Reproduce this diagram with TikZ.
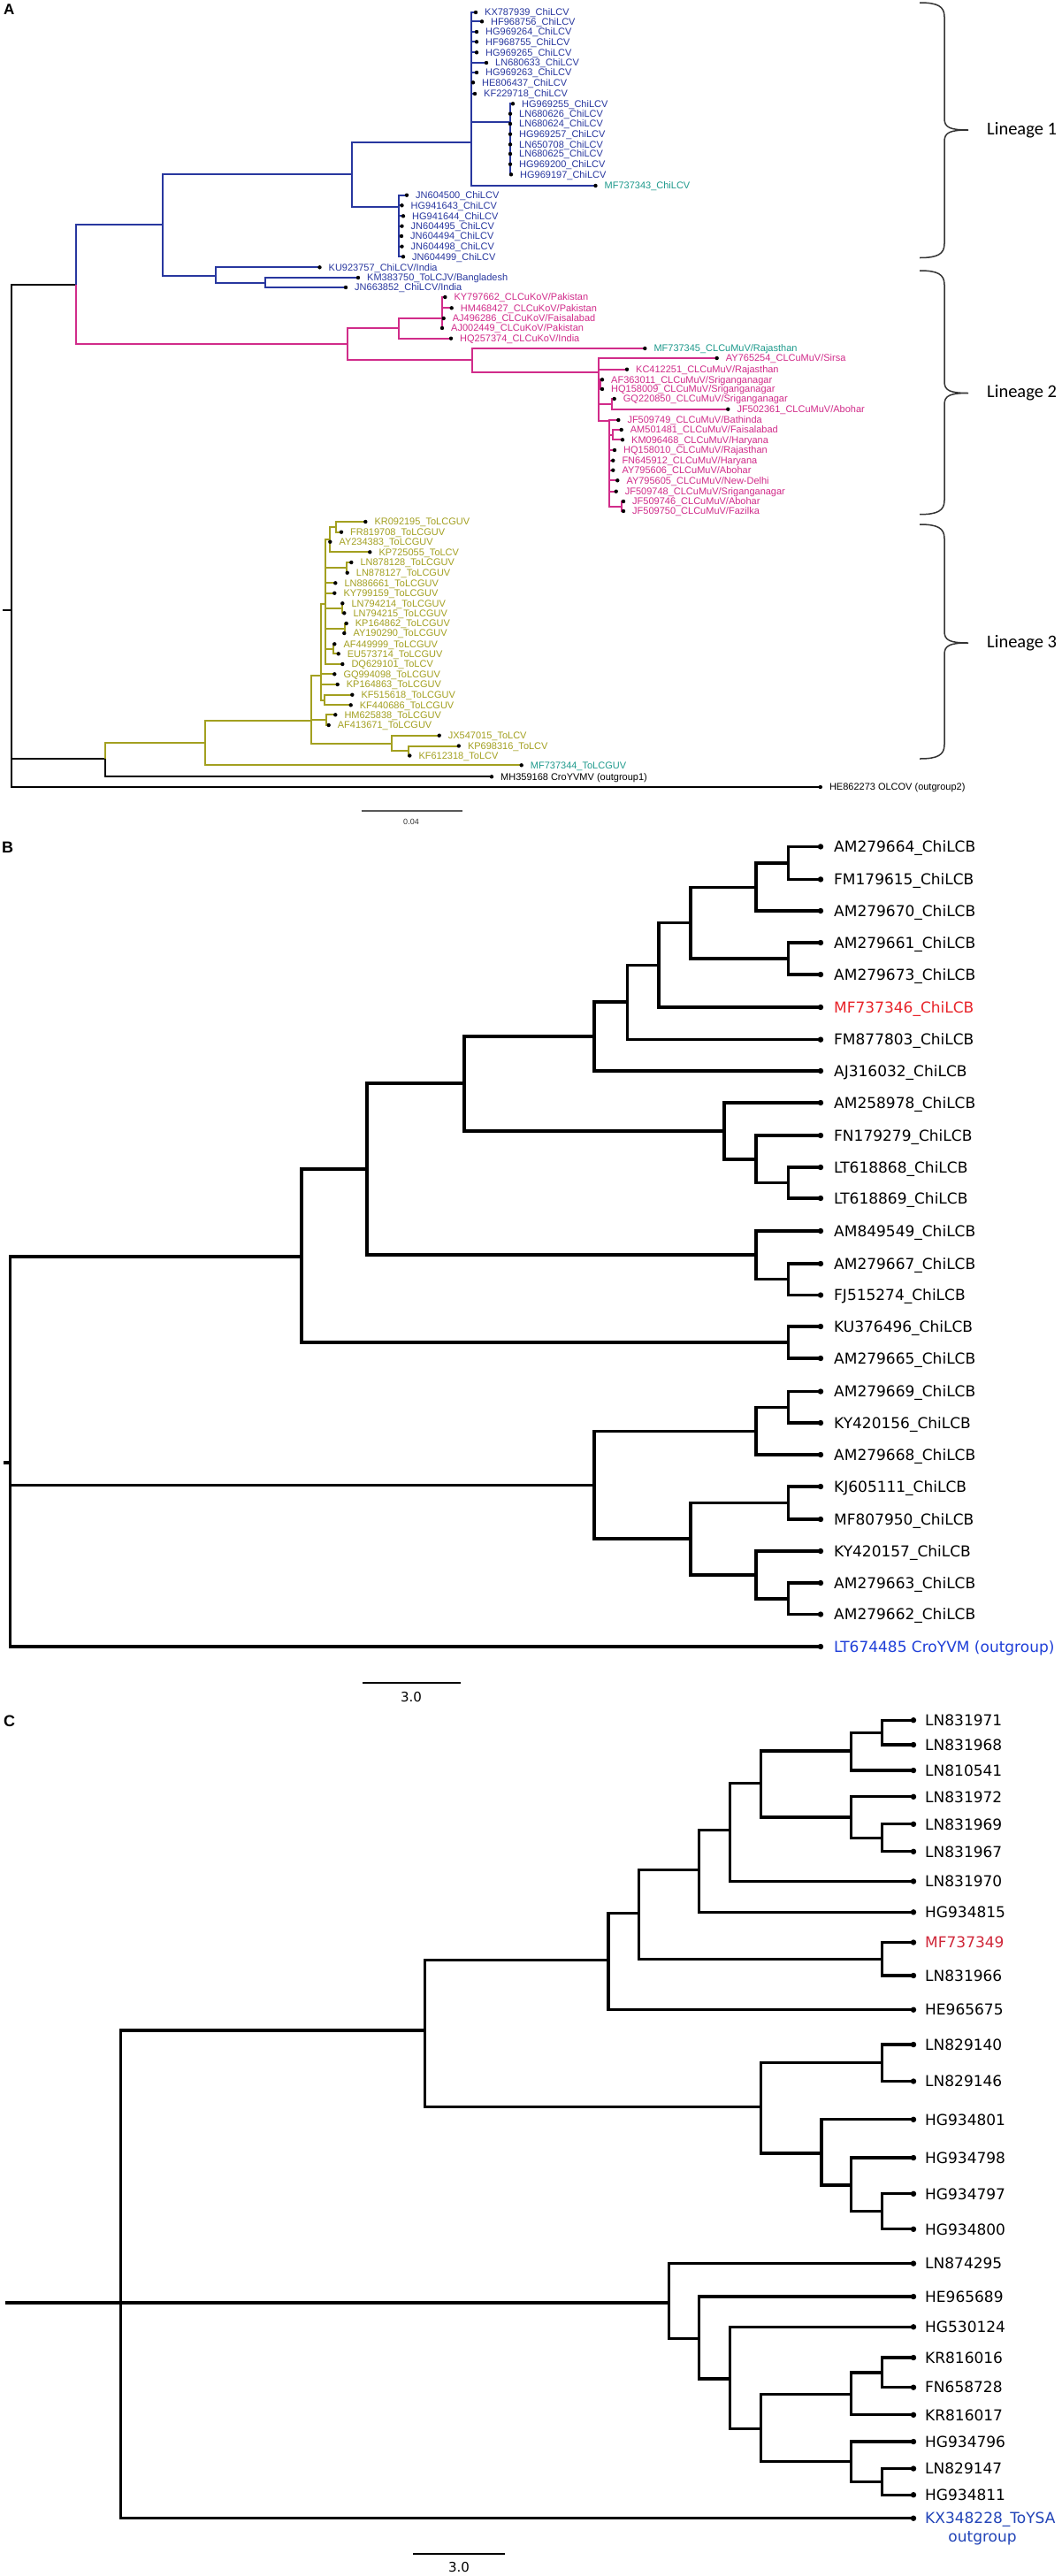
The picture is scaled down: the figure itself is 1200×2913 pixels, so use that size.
\documentclass[tikz,border=0pt]{standalone}
\usepackage{fontspec}
\newfontfamily\fA{Liberation Sans}
\newfontfamily\fB{DejaVu Sans}
\newfontfamily\fL{Carlito}
\usetikzlibrary{calc}
\pgfdeclarelayer{fg}
\pgfsetlayers{main,fg}
\definecolor{lone}{HTML}{28379F}
\definecolor{ltwo}{HTML}{D12C8A}
\definecolor{lthree}{HTML}{A3A020}
\definecolor{lteal}{HTML}{1E9A8C}
\definecolor{redB}{HTML}{E8242A}
\definecolor{redC}{HTML}{D0283A}
\definecolor{blueB}{HTML}{1F3FD8}
\definecolor{blueC}{HTML}{2244B8}
\definecolor{brgray}{HTML}{333333}
\tikzset{
  brA/.style={line width=2pt},
  brB/.style={line width=3.2pt},
  labA/.style={font={\fA\fontsize{11}{13}\selectfont}, anchor=base west, inner sep=0pt, yshift=-3.9pt},
  labB/.style={font={\fB\fontsize{17}{20}\selectfont}, anchor=base west, inner sep=0pt, yshift=-6.2pt},
  panel/.style={font={\fA\bfseries\fontsize{18}{20}\selectfont}, anchor=north west, inner sep=0pt},
  linlab/.style={font={\fL\fontsize{20.5}{24}\selectfont}, anchor=west, inner sep=0pt},
  bracestyle/.style={line width=1.5pt, brgray},
  scalebar/.style={line width=2pt},
}
\newcommand\lfA[5]{\coordinate (#1) at (#2,#3);
  \begin{pgfonlayer}{fg}\fill (#1) circle (2.2pt);\end{pgfonlayer}
  \node[labA,text=#4] (#1t) at ([xshift=10pt]#1) {#5};}
\newcommand\lfB[4]{\coordinate (#1) at (928,#2);
  \begin{pgfonlayer}{fg}\fill (#1) circle (3.2pt);\end{pgfonlayer}
  \node[labB,text=#3] (#1t) at ([xshift=15pt]#1) {#4};}
\newcommand\lfC[4]{\coordinate (#1) at (1033,#2);
  \begin{pgfonlayer}{fg}\fill (#1) circle (3.2pt);\end{pgfonlayer}
  \node[labB,text=#3] (#1t) at ([xshift=13pt]#1) {#4};}
\newcommand\nd[3]{\coordinate (#1) at (#2,#3);}
\newcommand\brs[3]{\foreach \c in {#3} {\draw[#1] (#2) |- (\c);}}
\newcommand\brc[3]{\draw[bracestyle] (1040,#1) .. controls (1060,#1) and (1068,{#1+4}) .. (1068,{#1+16}) -- (1068,{#3-13}) .. controls (1068,{#3-3}) and (1074,#3) .. (1095,#3) .. controls (1074,#3) and (1068,{#3+3}) .. (1068,{#3+13}) -- (1068,{#2-16}) .. controls (1068,{#2-4}) and (1060,#2) .. (1040,#2);}
\begin{document}
\begin{tikzpicture}[x=1pt,y=-1pt]
\fill[white] (0,0) rectangle (1200,2913);
\useasboundingbox (0,0) rectangle (1200,2913);
% ================= PANEL A =================
\node[panel,font={\fA\bfseries\fontsize{17}{20}\selectfont}] (labA) at (4,5) {A};
% Lineage 1 leaves
\lfA{aKX787939}{538}{14}{lone}{KX787939\_ChiLCV}
\lfA{aHF968756}{545}{24.3}{lone}{HF968756\_ChiLCV}
\lfA{aHG969264}{539}{36}{lone}{HG969264\_ChiLCV}
\lfA{aHF968755}{539}{47.3}{lone}{HF968755\_ChiLCV}
\lfA{aHG969265}{539}{59.3}{lone}{HG969265\_ChiLCV}
\lfA{aLN680633}{550}{71}{lone}{LN680633\_ChiLCV}
\lfA{aHG969263}{539}{82}{lone}{HG969263\_ChiLCV}
\lfA{aHE806437}{535}{93.3}{lone}{HE806437\_ChiLCV}
\lfA{aKF229718}{537}{106}{lone}{KF229718\_ChiLCV}
\lfA{aHG969255}{580}{117.3}{lone}{HG969255\_ChiLCV}
\lfA{aLN680626}{577}{128.7}{lone}{LN680626\_ChiLCV}
\lfA{aLN680624}{577}{140}{lone}{LN680624\_ChiLCV}
\lfA{aHG969257}{577}{151.7}{lone}{HG969257\_ChiLCV}
\lfA{aLN650708}{577}{163.3}{lone}{LN650708\_ChiLCV}
\lfA{aLN680625}{577}{174}{lone}{LN680625\_ChiLCV}
\lfA{aHG969200}{577}{185.7}{lone}{HG969200\_ChiLCV}
\lfA{aHG969197}{578}{197.3}{lone}{HG969197\_ChiLCV}
\lfA{aMF737343}{673.5}{210}{lteal}{MF737343\_ChiLCV}
\lfA{aJN604500}{460}{220.7}{lone}{JN604500\_ChiLCV}
\lfA{aHG941643}{454.5}{232.3}{lone}{HG941643\_ChiLCV}
\lfA{aHG941644}{456}{244.3}{lone}{HG941644\_ChiLCV}
\lfA{aJN604495}{454.5}{255.7}{lone}{JN604495\_ChiLCV}
\lfA{aJN604494}{454}{267}{lone}{JN604494\_ChiLCV}
\lfA{aJN604498}{454.5}{278.7}{lone}{JN604498\_ChiLCV}
\lfA{aJN604499}{456}{290.3}{lone}{JN604499\_ChiLCV}
\lfA{aKU923757}{361.5}{302.3}{lone}{KU923757\_ChiLCV/India}
\lfA{aKM383750}{405}{314}{lone}{KM383750\_ToLCJV/Bangladesh}
\lfA{aJN663852}{391}{325}{lone}{JN663852\_ChiLCV/India}
% Lineage 2 leaves
\lfA{aKY797662}{503.3}{336}{ltwo}{KY797662\_CLCuKoV/Pakistan}
\lfA{aHM468427}{510.7}{348.3}{ltwo}{HM468427\_CLCuKoV/Pakistan}
\lfA{aAJ496286}{501.7}{360}{ltwo}{AJ496286\_CLCuKoV/Faisalabad}
\lfA{aAJ002449}{500}{371}{ltwo}{AJ002449\_CLCuKoV/Pakistan}
\lfA{aHQ257374}{510}{382.7}{ltwo}{HQ257374\_CLCuKoV/India}
\lfA{aMF737345}{729.3}{394}{lteal}{MF737345\_CLCuMuV/Rajasthan}
\lfA{aAY765254}{810.7}{405}{ltwo}{AY765254\_CLCuMuV/Sirsa}
\lfA{aKC412251}{709}{417.7}{ltwo}{KC412251\_CLCuMuV/Rajasthan}
\lfA{aAF363011}{681}{429.3}{ltwo}{AF363011\_CLCuMuV/Sriganganagar}
\lfA{aHQ158009}{681}{440}{ltwo}{HQ158009\_CLCuMuV/Sriganganagar}
\lfA{aGQ220850}{694.7}{451}{ltwo}{GQ220850\_CLCuMuV/Sriganganagar}
\lfA{aJF502361}{823.3}{462.7}{ltwo}{JF502361\_CLCuMuV/Abohar}
\lfA{aJF509749}{699.3}{475}{ltwo}{JF509749\_CLCuMuV/Bathinda}
\lfA{aAM501481}{702.7}{486}{ltwo}{AM501481\_CLCuMuV/Faisalabad}
\lfA{aKM096468}{704}{497.3}{ltwo}{KM096468\_CLCuMuV/Haryana}
\lfA{aHQ158010}{695}{509}{ltwo}{HQ158010\_CLCuMuV/Rajasthan}
\lfA{aFN645912}{693.3}{520.7}{ltwo}{FN645912\_CLCuMuV/Haryana}
\lfA{aAY795606}{693.3}{531.7}{ltwo}{AY795606\_CLCuMuV/Abohar}
\lfA{aAY795605}{698.3}{543.3}{ltwo}{AY795605\_CLCuMuV/New-Delhi}
\lfA{aJF509748}{696.7}{555.7}{ltwo}{JF509748\_CLCuMuV/Sriganganagar}
\lfA{aJF509746}{705}{567}{ltwo}{JF509746\_CLCuMuV/Abohar}
\lfA{aJF509750}{705}{578}{ltwo}{JF509750\_CLCuMuV/Fazilka}
% Lineage 3 leaves
\lfA{aKR092195}{413.3}{590}{lthree}{KR092195\_ToLCGUV}
\lfA{aFR819708}{386}{601.7}{lthree}{FR819708\_ToLCGUV}
\lfA{aAY234383}{373.3}{612.7}{lthree}{AY234383\_ToLCGUV}
\lfA{aKP725055}{418.3}{624.3}{lthree}{KP725055\_ToLCV}
\lfA{aLN878128}{397.3}{636}{lthree}{LN878128\_ToLCGUV}
\lfA{aLN878127}{392.7}{647.7}{lthree}{LN878127\_ToLCGUV}
\lfA{aLN886661}{379.3}{659.3}{lthree}{LN886661\_ToLCGUV}
\lfA{aKY799159}{378.3}{670.7}{lthree}{KY799159\_ToLCGUV}
\lfA{aLN794214}{387.3}{682.3}{lthree}{LN794214\_ToLCGUV}
\lfA{aLN794215}{389.3}{693.3}{lthree}{LN794215\_ToLCGUV}
\lfA{aKP164862}{391.7}{705}{lthree}{KP164862\_ToLCGUV}
\lfA{aAY190290}{389.3}{716}{lthree}{AY190290\_ToLCGUV}
\lfA{aAF449999}{378.3}{728.3}{lthree}{AF449999\_ToLCGUV}
\lfA{aEU573714}{382.7}{739.3}{lthree}{EU573714\_ToLCGUV}
\lfA{aDQ629101}{387.3}{751}{lthree}{DQ629101\_ToLCV}
\lfA{aGQ994098}{378.3}{762.3}{lthree}{GQ994098\_ToLCGUV}
\lfA{aKP164863}{381.7}{774}{lthree}{KP164863\_ToLCGUV}
\lfA{aKF515618}{398.3}{785.7}{lthree}{KF515618\_ToLCGUV}
\lfA{aKF440686}{396.7}{797.3}{lthree}{KF440686\_ToLCGUV}
\lfA{aHM625838}{379.3}{808.3}{lthree}{HM625838\_ToLCGUV}
\lfA{aAF413671}{371.7}{820}{lthree}{AF413671\_ToLCGUV}
\lfA{aJX547015}{496.7}{831.7}{lthree}{JX547015\_ToLCV}
\lfA{aKP698316}{518.8}{843.5}{lthree}{KP698316\_ToLCV}
\lfA{aKF612318}{463.3}{854.5}{lthree}{KF612318\_ToLCV}
\lfA{aMF737344}{589.7}{865.3}{lteal}{MF737344\_ToLCGUV}
\lfA{aMH359168}{556}{878.3}{black}{MH359168 CroYVMV (outgroup1)}
\lfA{aHE862273}{927.8}{890}{black}{HE862273 OLCOV (outgroup2)}
% internal nodes A
\nd{aroot}{12.7}{690}
\nd{atick}{3.3}{690}
\nd{a12}{86.4}{321.7}
\nd{aL1}{184}{254}
\nd{aL1a}{398}{197.3}
\nd{aL1top}{533}{161}
\nd{aHG}{577}{137.7}
\nd{aJN}{450.7}{234}
\nd{aL1b}{244}{311.7}
\nd{aKM}{300}{320}
\nd{aL2}{392.7}{389}
\nd{aKo}{450.7}{371}
\nd{aKo1}{500}{360}
\nd{aMu}{534}{407.3}
\nd{aMu1}{676.7}{420.7}
\nd{aAF}{679.3}{434.7}
\nd{aGQ}{692.3}{457}
\nd{aBat}{689.3}{476}
\nd{aAM}{693.3}{491.7}
\nd{aJF}{703.3}{572.5}
\nd{a3O}{119}{858.3}
\nd{aL3}{231.7}{840}
\nd{a3a}{351.7}{815}
\nd{a3main}{362.7}{764}
\nd{a3A}{368.3}{683}
\nd{a3top}{373.3}{610}
\nd{aKR}{380}{596}
\nd{aLNa}{391.7}{641.8}
\nd{aLNb}{387.3}{687.8}
\nd{aKPa}{390}{710.5}
\nd{aAFEU}{376.7}{733.8}
\nd{aKFa}{367.3}{791.5}
\nd{aHMa}{369.3}{814}
\nd{aJX}{442.7}{841}
\nd{aKPb}{461.7}{848.7}
% branches A
\draw[brA] (atick) -- (aroot);
\brs{brA,black}{aroot}{a12,a3O,aHE862273}
\brs{brA,lone}{a12}{aL1}
\brs{brA,ltwo}{a12}{aL2}
\brs{brA,lone}{aL1}{aL1a,aL1b}
\brs{brA,lone}{aL1a}{aL1top,aJN}
\brs{brA,lone}{aL1top}{aKX787939,aHF968756,aHG969264,aHF968755,aHG969265,aLN680633,aHG969263,aHE806437,aKF229718,aHG,aMF737343}
\brs{brA,lone}{aHG}{aHG969255,aLN680626,aLN680624,aHG969257,aLN650708,aLN680625,aHG969200,aHG969197}
\brs{brA,lone}{aJN}{aJN604500,aHG941643,aHG941644,aJN604495,aJN604494,aJN604498,aJN604499}
\brs{brA,lone}{aL1b}{aKU923757,aKM}
\brs{brA,lone}{aKM}{aKM383750,aJN663852}
\brs{brA,ltwo}{aL2}{aKo,aMu}
\brs{brA,ltwo}{aKo}{aKo1,aHQ257374}
\brs{brA,ltwo}{aKo1}{aKY797662,aHM468427,aAJ496286,aAJ002449}
\brs{brA,ltwo}{aMu}{aMF737345,aMu1}
\brs{brA,ltwo}{aMu1}{aAY765254,aKC412251,aAF,aGQ,aBat}
\brs{brA,ltwo}{aAF}{aAF363011,aHQ158009}
\brs{brA,ltwo}{aGQ}{aGQ220850,aJF502361}
\brs{brA,ltwo}{aBat}{aJF509749,aAM,aHQ158010,aFN645912,aAY795606,aAY795605,aJF509748,aJF}
\brs{brA,ltwo}{aAM}{aAM501481,aKM096468}
\brs{brA,ltwo}{aJF}{aJF509746,aJF509750}
\brs{brA,lthree}{a3O}{aL3}
\brs{brA,black}{a3O}{aMH359168}
\brs{brA,lthree}{aL3}{a3a,aMF737344}
\brs{brA,lthree}{a3a}{a3main,aHMa,aJX}
\brs{brA,lthree}{a3main}{a3A,aGQ994098,aKP164863,aKFa}
\brs{brA,lthree}{a3A}{a3top,aLNa,aLN886661,aKY799159,aLNb,aKPa,aAFEU,aDQ629101}
\brs{brA,lthree}{a3top}{aKR,aAY234383,aKP725055}
\brs{brA,lthree}{aKR}{aKR092195,aFR819708}
\brs{brA,lthree}{aLNa}{aLN878128,aLN878127}
\brs{brA,lthree}{aLNb}{aLN794214,aLN794215}
\brs{brA,lthree}{aKPa}{aKP164862,aAY190290}
\brs{brA,lthree}{aAFEU}{aAF449999,aEU573714}
\brs{brA,lthree}{aKFa}{aKF515618,aKF440686}
\brs{brA,lthree}{aHMa}{aHM625838,aAF413671}
\brs{brA,lthree}{aJX}{aJX547015,aKPb}
\brs{brA,lthree}{aKPb}{aKP698316,aKF612318}
% braces and lineage labels
\brc{3}{291.5}{147}
\brc{306}{581.7}{444.5}
\brc{593}{858}{727}
\node[linlab] (lin1) at (1116,147) {Lineage 1};
\node[linlab] (lin2) at (1116,444.5) {Lineage 2};
\node[linlab] (lin3) at (1116,727) {Lineage 3};
% scale bar A
\coordinate (sA1) at (408.7,916.7);
\coordinate (sA2) at (523,916.7);
\draw[line width=1.6pt, black!65] (sA1) -- (sA2);
\node[font={\fA\fontsize{9}{11}\selectfont}, text=black!80, inner sep=0pt] (sAt) at (465,929) {0.04};
% ================= PANEL B =================
\node[panel] (labB) at (2,952) {B};
\lfB{bAM279664}{957.4}{black}{AM279664\_ChiLCB}
\lfB{bFM179615}{994.4}{black}{FM179615\_ChiLCB}
\lfB{bAM279670}{1030}{black}{AM279670\_ChiLCB}
\lfB{bAM279661}{1066}{black}{AM279661\_ChiLCB}
\lfB{bAM279673}{1102}{black}{AM279673\_ChiLCB}
\lfB{bMF737346}{1139}{redB}{MF737346\_ChiLCB}
\lfB{bFM877803}{1175.6}{black}{FM877803\_ChiLCB}
\lfB{bAJ316032}{1211}{black}{AJ316032\_ChiLCB}
\lfB{bAM258978}{1247}{black}{AM258978\_ChiLCB}
\lfB{bFN179279}{1284}{black}{FN179279\_ChiLCB}
\lfB{bLT618868}{1320}{black}{LT618868\_ChiLCB}
\lfB{bLT618869}{1355}{black}{LT618869\_ChiLCB}
\lfB{bAM849549}{1392}{black}{AM849549\_ChiLCB}
\lfB{bAM279667}{1429}{black}{AM279667\_ChiLCB}
\lfB{bFJ515274}{1464.5}{black}{FJ515274\_ChiLCB}
\lfB{bKU376496}{1500}{black}{KU376496\_ChiLCB}
\lfB{bAM279665}{1536}{black}{AM279665\_ChiLCB}
\lfB{bAM279669}{1573.5}{black}{AM279669\_ChiLCB}
\lfB{bKY420156}{1609}{black}{KY420156\_ChiLCB}
\lfB{bAM279668}{1645}{black}{AM279668\_ChiLCB}
\lfB{bKJ605111}{1681}{black}{KJ605111\_ChiLCB}
\lfB{bMF807950}{1718}{black}{MF807950\_ChiLCB}
\lfB{bKY420157}{1754}{black}{KY420157\_ChiLCB}
\lfB{bAM279663}{1790}{black}{AM279663\_ChiLCB}
\lfB{bAM279662}{1825.5}{black}{AM279662\_ChiLCB}
\lfB{bLT674485}{1862}{blueB}{LT674485 CroYVM (outgroup)}
\nd{broot}{11.5}{1654}
\nd{btick}{4}{1654}
\nd{bN1}{341}{1421}
\nd{bKU}{891.5}{1518}
\nd{bN2}{415}{1322}
\nd{bAM849}{855}{1419}
\nd{bAM667}{891.5}{1446.7}
\nd{bN3}{525}{1225}
\nd{bAM258}{819}{1279}
\nd{bFN}{855}{1311}
\nd{bLT}{891.5}{1337.5}
\nd{bN4}{672}{1172}
\nd{bN5}{709.5}{1133}
\nd{bN6}{745}{1091.5}
\nd{bN7}{781}{1043.5}
\nd{bN8}{855}{1003.3}
\nd{bAM664}{891.5}{976}
\nd{bAM661}{891.5}{1084}
\nd{bL}{672}{1679.5}
\nd{bL1}{855}{1618.5}
\nd{bAM669}{891.5}{1591.3}
\nd{bL2}{781}{1740}
\nd{bKJ}{891.5}{1699.5}
\nd{bKY157}{855}{1781}
\nd{bAM663}{891.5}{1808}
\draw[brB] (btick) -- (broot);
\brs{brB}{broot}{bN1,bL,bLT674485}
\brs{brB}{bN1}{bN2,bKU}
\brs{brB}{bKU}{bKU376496,bAM279665}
\brs{brB}{bN2}{bN3,bAM849}
\brs{brB}{bAM849}{bAM849549,bAM667}
\brs{brB}{bAM667}{bAM279667,bFJ515274}
\brs{brB}{bN3}{bN4,bAM258}
\brs{brB}{bAM258}{bAM258978,bFN}
\brs{brB}{bFN}{bFN179279,bLT}
\brs{brB}{bLT}{bLT618868,bLT618869}
\brs{brB}{bN4}{bN5,bAJ316032}
\brs{brB}{bN5}{bN6,bFM877803}
\brs{brB}{bN6}{bN7,bMF737346}
\brs{brB}{bN7}{bN8,bAM661}
\brs{brB}{bN8}{bAM664,bAM279670}
\brs{brB}{bAM664}{bAM279664,bFM179615}
\brs{brB}{bAM661}{bAM279661,bAM279673}
\brs{brB}{bL}{bL1,bL2}
\brs{brB}{bL1}{bAM669,bAM279668}
\brs{brB}{bAM669}{bAM279669,bKY420156}
\brs{brB}{bL2}{bKJ,bKY157}
\brs{brB}{bKJ}{bKJ605111,bMF807950}
\brs{brB}{bKY157}{bKY420157,bAM663}
\brs{brB}{bAM663}{bAM279663,bAM279662}
\coordinate (sB1) at (410,1903);
\coordinate (sB2) at (521,1903);
\draw[scalebar] (sB1) -- (sB2);
\node[font={\fB\fontsize{15}{18}\selectfont}, inner sep=0pt] (sBt) at (465,1919) {3.0};
% ================= PANEL C =================
\node[panel] (labC) at (4,1940) {C};
\lfC{cLN831971}{1945.2}{black}{LN831971}
\lfC{cLN831968}{1973}{black}{LN831968}
\lfC{cLN810541}{2002}{black}{LN810541}
\lfC{cLN831972}{2031.8}{black}{LN831972}
\lfC{cLN831969}{2062.8}{black}{LN831969}
\lfC{cLN831967}{2093.8}{black}{LN831967}
\lfC{cLN831970}{2127.4}{black}{LN831970}
\lfC{cHG934815}{2162.3}{black}{HG934815}
\lfC{cMF737349}{2196.5}{redC}{MF737349}
\lfC{cLN831966}{2234}{black}{LN831966}
\lfC{cHE965675}{2272.7}{black}{HE965675}
\lfC{cLN829140}{2312}{black}{LN829140}
\lfC{cLN829146}{2353.5}{black}{LN829146}
\lfC{cHG934801}{2396.8}{black}{HG934801}
\lfC{cHG934798}{2440}{black}{HG934798}
\lfC{cHG934797}{2480.8}{black}{HG934797}
\lfC{cHG934800}{2520.8}{black}{HG934800}
\lfC{cLN874295}{2559.6}{black}{LN874295}
\lfC{cHE965689}{2597}{black}{HE965689}
\lfC{cHG530124}{2631.3}{black}{HG530124}
\lfC{cKR816016}{2666}{black}{KR816016}
\lfC{cFN658728}{2699.7}{black}{FN658728}
\lfC{cKR816017}{2730.8}{black}{KR816017}
\lfC{cHG934796}{2761}{black}{HG934796}
\lfC{cLN829147}{2791.5}{black}{LN829147}
\lfC{cHG934811}{2821.2}{black}{HG934811}
\lfC{cKX348228}{2847.7}{blueC}{KX348228\_ToYSA}
\node[font={\fB\fontsize{17}{20}\selectfont}, text=blueC, inner sep=0pt] (cOut) at (1111,2870) {outgroup};
\nd{cstem}{6}{2604}
\nd{cRoot}{136.2}{2604}
\nd{cN1}{480.6}{2296}
\nd{cN2}{688}{2216.5}
\nd{cN3}{722.4}{2163.6}
\nd{cMF}{997.2}{2215.3}
\nd{cN4}{790.5}{2114.5}
\nd{cN5}{825.7}{2069.3}
\nd{cN6}{860.2}{2016.5}
\nd{cN7}{962.7}{1980}
\nd{cLNa}{997.2}{1959.1}
\nd{cN8}{962.7}{2055}
\nd{cLNb}{997.2}{2078.3}
\nd{cN10}{860.2}{2382.6}
\nd{cLNc}{997.2}{2332.8}
\nd{cN11}{929}{2435}
\nd{cN12}{962.7}{2471}
\nd{cHGa}{997.2}{2500.8}
\nd{cN9}{756.1}{2604}
\nd{cN13}{790.5}{2644.8}
\nd{cN14}{825.7}{2690}
\nd{cN15}{860.2}{2746.3}
\nd{cN16}{962.7}{2707.5}
\nd{cKR}{997.2}{2682.9}
\nd{cN17}{962.7}{2783.1}
\nd{cLNd}{997.2}{2806.4}
\draw[brB] (cstem) -- (cRoot);
\brs{brB}{cRoot}{cN1,cN9,cKX348228}
\brs{brB}{cN1}{cN2,cN10}
\brs{brB}{cN2}{cN3,cHE965675}
\brs{brB}{cN3}{cN4,cMF}
\brs{brB}{cMF}{cMF737349,cLN831966}
\brs{brB}{cN4}{cN5,cHG934815}
\brs{brB}{cN5}{cN6,cLN831970}
\brs{brB}{cN6}{cN7,cN8}
\brs{brB}{cN7}{cLNa,cLN810541}
\brs{brB}{cLNa}{cLN831971,cLN831968}
\brs{brB}{cN8}{cLN831972,cLNb}
\brs{brB}{cLNb}{cLN831969,cLN831967}
\brs{brB}{cN10}{cLNc,cN11}
\brs{brB}{cLNc}{cLN829140,cLN829146}
\brs{brB}{cN11}{cHG934801,cN12}
\brs{brB}{cN12}{cHG934798,cHGa}
\brs{brB}{cHGa}{cHG934797,cHG934800}
\brs{brB}{cN9}{cLN874295,cN13}
\brs{brB}{cN13}{cHE965689,cN14}
\brs{brB}{cN14}{cHG530124,cN15}
\brs{brB}{cN15}{cN16,cN17}
\brs{brB}{cN16}{cKR,cKR816017}
\brs{brB}{cKR}{cKR816016,cFN658728}
\brs{brB}{cN17}{cHG934796,cLNd}
\brs{brB}{cLNd}{cLN829147,cHG934811}
\coordinate (sC1) at (467,2888);
\coordinate (sC2) at (571,2888);
\draw[scalebar] (sC1) -- (sC2);
\node[font={\fB\fontsize{15}{18}\selectfont}, inner sep=0pt] (sCt) at (519,2903) {3.0};
\end{tikzpicture}
\end{document}
